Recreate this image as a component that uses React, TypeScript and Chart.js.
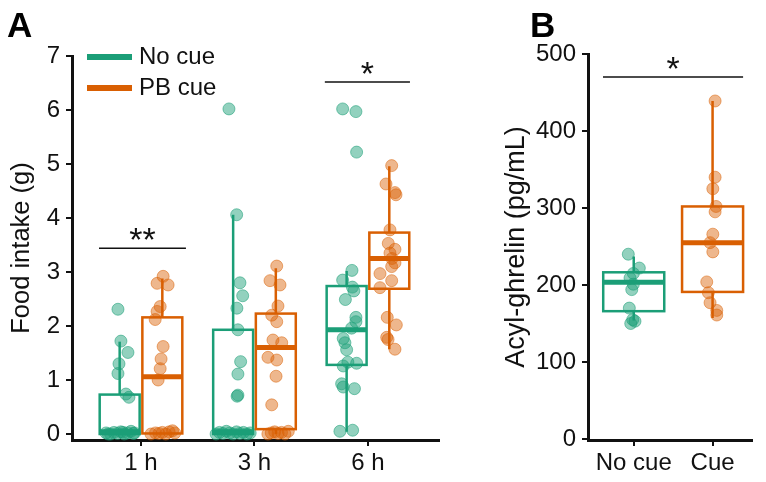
import React, { useEffect, useRef } from 'react';
import { Chart, registerables } from 'chart.js';

Chart.register(...registerables);

const FONT = "'Liberation Sans', Arial, Helvetica, sans-serif";
const GREEN = '#1b9e77';
const ORANGE = '#d95f02';
const GREEN_FILL = 'rgba(27,158,119,0.48)';
const ORANGE_FILL = 'rgba(217,95,2,0.45)';
const GREEN_EDGE = 'rgba(27,158,119,0.55)';
const ORANGE_EDGE = 'rgba(217,95,2,0.5)';
const TEXT = '#111';

// ---------------- Panel A: food intake ----------------
const timeLabels = ['1 h', '3 h', '6 h'];
const foodTicks = [0, 1, 2, 3, 4, 5, 6, 7];
const groupNames = ['No cue', 'PB cue'];

const noCue1h = [2.31, 1.72, 1.51, 1.3, 1.12, 0.74, 0.68, 0.02, 0.0, 0.03, 0.01, 0.04, 0.0, 0.02, 0.05, 0.01, 0.0, 0.03, 0.02];
const noCue1hJitter = [-0.015, 0.011, 0.073, -0.006, -0.015, 0.055, 0.082, -0.12, -0.08, -0.05, -0.02, 0.01, 0.04, 0.07, 0.1, 0.12, -0.1, 0.03, 0.13];
const cue1h = [2.92, 2.79, 2.76, 2.36, 2.27, 2.12, 1.62, 1.39, 1.21, 1.0, 0.0, 0.02, 0.01, 0.03, 0.0, 0.04, 0.06, 0.02];
const cue1hJitter = [0.007, -0.046, 0.051, -0.019, -0.046, -0.063, 0.007, -0.011, -0.019, -0.037, -0.1, -0.06, -0.03, 0.0, 0.03, 0.06, 0.09, 0.11];

const noCue3h = [6.02, 4.06, 2.8, 2.56, 2.33, 1.93, 1.34, 1.11, 0.72, 0.7, 0.0, 0.03, 0.01, 0.05, 0.02, 0.0, 0.04, 0.01, 0.03, 0.0, 0.02];
const noCue3hJitter = [-0.037, 0.031, 0.06, 0.084, 0.033, 0.042, 0.066, 0.042, 0.042, 0.035, -0.15, -0.12, -0.09, -0.06, -0.03, 0.0, 0.03, 0.06, 0.09, 0.12, 0.15];
const cue3h = [3.11, 2.84, 2.76, 2.37, 2.2, 2.08, 1.74, 1.69, 1.42, 1.37, 1.07, 0.54, 0.0, 0.02, 0.04, 0.01, 0.03, 0.0, 0.05];
const cue3hJitter = [0.008, -0.051, 0.037, 0.019, -0.036, 0.008, -0.025, 0.052, -0.069, 0.008, 0.002, -0.036, -0.07, -0.04, -0.01, 0.02, 0.05, 0.08, 0.11];

const noCue6h = [6.02, 5.97, 5.22, 3.03, 2.85, 2.72, 2.65, 2.49, 2.16, 2.08, 1.96, 1.77, 1.69, 1.56, 1.33, 1.31, 1.26, 0.93, 0.87, 0.84, 0.05, 0.07];
const noCue6hJitter = [-0.035, 0.082, 0.088, 0.047, -0.035, 0.051, 0.064, -0.011, 0.082, 0.082, 0.044, -0.03, -0.015, 0.0, 0.011, 0.088, -0.03, -0.044, -0.03, 0.069, -0.059, 0.053];
const cue6h = [4.97, 4.63, 4.47, 4.43, 3.78, 3.53, 3.42, 3.35, 3.25, 3.17, 3.1, 2.97, 2.84, 2.71, 2.16, 2.02, 1.79, 1.75, 1.57];
const cue6hJitter = [0.021, -0.029, 0.05, 0.059, 0.006, -0.009, 0.05, 0.006, 0.024, 0.05, 0.021, -0.082, 0.021, -0.082, -0.018, 0.062, -0.023, -0.011, 0.05];

// box statistics per time point (whisker low, Q1, median, Q3, whisker high)
const noCueLow = [0, 0, 0.04];
const noCueQ1 = [0, 0, 1.28];
const noCueMedian = [0.04, 0.04, 1.93];
const noCueQ3 = [0.73, 1.93, 2.74];
const noCueHigh = [1.71, 4.06, 3.02];
const cueLow = [0, 0, 1.57];
const cueQ1 = [0.01, 0.09, 2.69];
const cueMedian = [1.06, 1.6, 3.25];
const cueQ3 = [2.16, 2.23, 3.73];
const cueHigh = [2.88, 3.07, 4.96];

// significance brackets (x in category units, y in grams)
const sigAStart = [-0.37, 1.62];
const sigAEnd = [0.396, 2.37];
const sigAY = [3.44, 6.52];
const sigALabels = ['**', '*'];

// ---------------- Panel B: acyl-ghrelin ----------------
const ghrelinLabels = ['No cue', 'Cue'];
const ghrelinTicks = [0, 100, 200, 300, 400, 500];
const ghrelinNoCue = [240, 222, 215, 209, 201, 194, 170, 155, 153, 150];
const ghrelinNoCueJitter = [-0.069, 0.071, -0.005, -0.047, -0.005, -0.025, -0.056, -0.013, 0.016, -0.038];
const ghrelinCue = [439, 340, 325, 302, 295, 266, 255, 243, 204, 190, 177, 167, 161];
const ghrelinCueJitter = [0.032, 0.032, 0.003, 0.044, 0.032, 0.003, -0.032, 0.003, -0.074, -0.053, -0.032, 0.053, 0.053];
const ghrelinLow = [154, 157];
const ghrelinQ1 = [166, 191];
const ghrelinMedian = [203.5, 255];
const ghrelinQ3 = [216.5, 302];
const ghrelinHigh = [237, 439];
const sigBStart = [-0.39];
const sigBEnd = [1.387];
const sigBY = [470];
const sigBLabels = ['*'];

const DODGE_A = 0.188;
const HALF_W_A = 0.176;
const HALF_W_B = 0.387;

type Box = { x: number; hw: number; lo: number; q1: number; med: number; q3: number; hi: number; color: string };
type Sig = { x0: number; x1: number; y: number; label: string };

function pts(center: number, values: number[], jitter: number[]) {
  return values.map((v, i) => ({ x: center + jitter[i], y: v }));
}

function scatterSet(data: { x: number; y: number }[], fill: string, edge: string) {
  return {
    data,
    backgroundColor: fill,
    borderColor: edge,
    borderWidth: 1,
    pointRadius: 6,
    pointHoverRadius: 6,
    clip: false as any,
  };
}

function overlayPlugin(id: string, boxes: Box[], sigs: Sig[], extra?: (ctx: CanvasRenderingContext2D) => void) {
  return {
    id,
    afterDatasetsDraw(chart: any) {
      const { ctx, scales } = chart;
      const xs = scales.x;
      const ys = scales.y;
      ctx.save();
      ctx.lineCap = 'butt';
      for (const b of boxes) {
        const xl = xs.getPixelForValue(b.x - b.hw);
        const xr = xs.getPixelForValue(b.x + b.hw);
        const xc = xs.getPixelForValue(b.x);
        const y1 = ys.getPixelForValue(b.q1);
        const y3 = ys.getPixelForValue(b.q3);
        ctx.strokeStyle = b.color;
        ctx.lineWidth = 2.5;
        ctx.beginPath();
        ctx.moveTo(xc, y3);
        ctx.lineTo(xc, ys.getPixelForValue(b.hi));
        ctx.moveTo(xc, y1);
        ctx.lineTo(xc, ys.getPixelForValue(b.lo));
        ctx.stroke();
        ctx.strokeRect(xl, y3, xr - xl, y1 - y3);
        ctx.lineWidth = 5;
        ctx.beginPath();
        const ym = ys.getPixelForValue(b.med);
        ctx.moveTo(xl, ym);
        ctx.lineTo(xr, ym);
        ctx.stroke();
      }
      for (const s of sigs) {
        const x0 = xs.getPixelForValue(s.x0);
        const x1 = xs.getPixelForValue(s.x1);
        const yy = ys.getPixelForValue(s.y);
        ctx.strokeStyle = TEXT;
        ctx.lineWidth = 1.5;
        ctx.beginPath();
        ctx.moveTo(x0, yy);
        ctx.lineTo(x1, yy);
        ctx.stroke();
        ctx.fillStyle = TEXT;
        ctx.font = `34px ${FONT}`;
        ctx.textAlign = 'center';
        ctx.textBaseline = 'alphabetic';
        ctx.fillText(s.label, (x0 + x1) / 2, yy + 3);
      }
      if (extra) extra(ctx);
      ctx.restore();
    },
  };
}

function axisCommon() {
  return {
    grid: { drawOnChartArea: false, drawTicks: true, tickLength: 6, color: TEXT, lineWidth: 2 },
    border: { display: true, color: TEXT, width: 3 },
  };
}

function configA() {
  const boxes: Box[] = [];
  timeLabels.forEach((_, i) => {
    boxes.push({ x: i - DODGE_A, hw: HALF_W_A, lo: noCueLow[i], q1: noCueQ1[i], med: noCueMedian[i], q3: noCueQ3[i], hi: noCueHigh[i], color: GREEN });
    boxes.push({ x: i + DODGE_A, hw: HALF_W_A, lo: cueLow[i], q1: cueQ1[i], med: cueMedian[i], q3: cueQ3[i], hi: cueHigh[i], color: ORANGE });
  });
  const sigs: Sig[] = sigALabels.map((l, i) => ({ x0: sigAStart[i], x1: sigAEnd[i], y: sigAY[i], label: l }));
  const noCueSets = [
    pts(0 - DODGE_A, noCue1h, noCue1hJitter),
    pts(1 - DODGE_A, noCue3h, noCue3hJitter),
    pts(2 - DODGE_A, noCue6h, noCue6hJitter),
  ];
  const cueSets = [
    pts(0 + DODGE_A, cue1h, cue1hJitter),
    pts(1 + DODGE_A, cue3h, cue3hJitter),
    pts(2 + DODGE_A, cue6h, cue6hJitter),
  ];
  const extra = (ctx: CanvasRenderingContext2D) => {
    ctx.fillStyle = '#000';
    ctx.font = `bold 35px ${FONT}`;
    ctx.textAlign = 'left';
    ctx.textBaseline = 'alphabetic';
    ctx.fillText('A', 7, 37);
    const legendColors = [GREEN, ORANGE];
    const legendY = [57, 88];
    groupNames.forEach((name, i) => {
      ctx.strokeStyle = legendColors[i];
      ctx.lineWidth = 6;
      ctx.beginPath();
      ctx.moveTo(87, legendY[i]);
      ctx.lineTo(132, legendY[i]);
      ctx.stroke();
      ctx.fillStyle = TEXT;
      ctx.font = `24px ${FONT}`;
      ctx.textBaseline = 'middle';
      ctx.fillText(name, 139, legendY[i]);
    });
  };
  return {
    type: 'scatter' as const,
    data: {
      datasets: [
        ...noCueSets.map((d) => scatterSet(d, GREEN_FILL, GREEN_EDGE)),
        ...cueSets.map((d) => scatterSet(d, ORANGE_FILL, ORANGE_EDGE)),
      ],
    },
    options: {
      animation: false as const,
      responsive: false,
      maintainAspectRatio: false,
      layout: { padding: { top: 56, right: 11, left: 0, bottom: 0 } },
      plugins: { legend: { display: false }, tooltip: { enabled: false } },
      scales: {
        x: {
          type: 'linear' as const,
          min: -0.608,
          max: 2.626,
          afterBuildTicks: (s: any) => {
            s.ticks = timeLabels.map((_, i) => ({ value: i }));
          },
          afterFit: (s: any) => {
            s.height = 42;
          },
          ticks: {
            callback: (v: any) => timeLabels[v as number],
            color: TEXT,
            font: { size: 24, family: FONT },
            padding: 3,
            maxRotation: 0,
            autoSkip: false,
          },
          ...axisCommon(),
        },
        y: {
          type: 'linear' as const,
          min: -0.111,
          max: 7,
          afterBuildTicks: (s: any) => {
            s.ticks = foodTicks.map((v) => ({ value: v }));
          },
          afterFit: (s: any) => {
            s.width = 72;
          },
          ticks: { color: TEXT, font: { size: 24, family: FONT }, padding: 6 },
          title: { display: true, text: 'Food intake (g)', color: TEXT, font: { size: 25.5, family: FONT }, padding: { top: 6.5, bottom: 0 } },
          ...axisCommon(),
        },
      },
    },
    plugins: [overlayPlugin('overlayA', boxes, sigs, extra)],
  };
}

function configB() {
  const colors = [GREEN, ORANGE];
  const boxes: Box[] = ghrelinLabels.map((_, i) => ({
    x: i,
    hw: HALF_W_B,
    lo: ghrelinLow[i],
    q1: ghrelinQ1[i],
    med: ghrelinMedian[i],
    q3: ghrelinQ3[i],
    hi: ghrelinHigh[i],
    color: colors[i],
  }));
  const sigs: Sig[] = sigBLabels.map((l, i) => ({ x0: sigBStart[i], x1: sigBEnd[i], y: sigBY[i], label: l }));
  const extra = (ctx: CanvasRenderingContext2D) => {
    ctx.fillStyle = '#000';
    ctx.font = `bold 35px ${FONT}`;
    ctx.textAlign = 'left';
    ctx.textBaseline = 'alphabetic';
    ctx.fillText('B', 80, 37);
  };
  return {
    type: 'scatter' as const,
    data: {
      datasets: [
        scatterSet(pts(0, ghrelinNoCue, ghrelinNoCueJitter), GREEN_FILL, GREEN_EDGE),
        scatterSet(pts(1, ghrelinCue, ghrelinCueJitter), ORANGE_FILL, ORANGE_EDGE),
      ],
    },
    options: {
      animation: false as const,
      responsive: false,
      maintainAspectRatio: false,
      layout: { padding: { top: 54, right: 14, left: 45, bottom: 0 } },
      plugins: { legend: { display: false }, tooltip: { enabled: false } },
      scales: {
        x: {
          type: 'linear' as const,
          min: -0.58,
          max: 1.5,
          afterBuildTicks: (s: any) => {
            s.ticks = ghrelinLabels.map((_, i) => ({ value: i }));
          },
          afterFit: (s: any) => {
            s.height = 42;
          },
          ticks: {
            callback: (v: any) => ghrelinLabels[v as number],
            color: TEXT,
            font: { size: 24, family: FONT },
            padding: 3,
            maxRotation: 0,
            autoSkip: false,
          },
          ...axisCommon(),
        },
        y: {
          type: 'linear' as const,
          min: -1.3,
          max: 500,
          afterBuildTicks: (s: any) => {
            s.ticks = ghrelinTicks.map((v) => ({ value: v }));
          },
          afterFit: (s: any) => {
            s.width = 93;
          },
          ticks: { color: TEXT, font: { size: 24, family: FONT }, padding: 6 },
          title: { display: true, text: 'Acyl-ghrelin (pg/mL)', color: TEXT, font: { size: 27, family: FONT }, padding: { top: 5.5, bottom: 0 } },
          ...axisCommon(),
        },
      },
    },
    plugins: [overlayPlugin('overlayB', boxes, sigs, extra)],
  };
}

export default function App() {
  const refA = useRef<HTMLCanvasElement>(null);
  const refB = useRef<HTMLCanvasElement>(null);
  useEffect(() => {
    const a = new Chart(refA.current as HTMLCanvasElement, configA() as any);
    const b = new Chart(refB.current as HTMLCanvasElement, configB() as any);
    return () => {
      a.destroy();
      b.destroy();
    };
  }, []);
  return (
    <div style={{ position: 'fixed', left: 0, top: 0, width: 766, height: 482, background: '#fff' }}>
      <canvas ref={refA} width={450} height={482} style={{ position: 'absolute', left: 0, top: 0, width: 450, height: 482 }} />
      <canvas ref={refB} width={316} height={482} style={{ position: 'absolute', left: 450, top: 0, width: 316, height: 482 }} />
    </div>
  );
}
